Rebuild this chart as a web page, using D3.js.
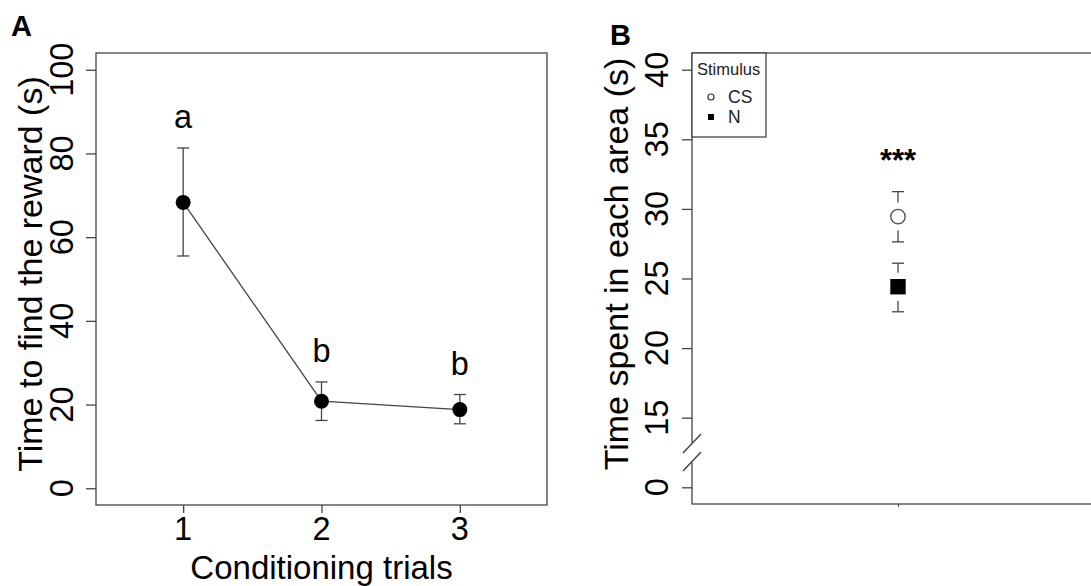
<!DOCTYPE html>
<html>
<head>
<meta charset="utf-8">
<script src="https://cdn.jsdelivr.net/npm/d3@7"></script>
<style>
  body { margin: 0; background: #fff; }
  svg { display: block; }
  text { font-family: "Liberation Sans", Arial, sans-serif; }
</style>
</head>
<body>
<div id="root"></div>
<script>
// panel A data
const trials = [1, 2, 3];
const rewardTime = [68.3, 20.8, 18.8];
const rewardUpper = [81.3, 25.4, 22.4];
const rewardLower = [55.5, 16.2, 15.4];
const groupLetters = ['a', 'b', 'b'];
const yTicksA = [0, 20, 40, 60, 80, 100];

// panel B data
const stimuli = ['CS', 'N'];
const areaTime = [29.45, 24.41];
const areaUpper = [31.24, 26.1];
const areaLower = [27.63, 22.61];
const yTicksB = [0, 15, 20, 25, 30, 35, 40];

const W = 1091, H = 586;
const ink = '#444';
const tickFont = 32.5;
const titleFont = 34;

const svg = d3.select('#root').append('svg')
  .attr('width', W).attr('height', H);

// ---------- panel A ----------
const boxA = {l: 96, r: 547, t: 53, b: 505};
const xA = d3.scaleLinear().domain([0.37, 3.63]).range([boxA.l, boxA.r]);
const yA = d3.scaleLinear().domain([-4, 104]).range([boxA.b, boxA.t]);

const gA = svg.append('g');

gA.append('rect')
  .attr('x', boxA.l).attr('y', boxA.t)
  .attr('width', boxA.r - boxA.l).attr('height', boxA.b - boxA.t)
  .attr('fill', 'none').attr('stroke', ink).attr('stroke-width', 1.3);

// y axis
const yAxisA = gA.append('g').attr('transform', `translate(${boxA.l},0)`)
  .call(d3.axisLeft(yA).tickValues(yTicksA).tickSize(10).tickSizeOuter(0));
yAxisA.select('.domain').remove();
yAxisA.selectAll('line').attr('stroke', ink).attr('stroke-width', 1.3);
yAxisA.selectAll('text').remove();
gA.selectAll('.ytA').data(yTicksA).enter().append('text')
  .attr('transform', d => `translate(73,${yA(d)}) rotate(-90)`)
  .attr('text-anchor', 'middle')
  .attr('font-size', tickFont)
  .text(d => d);

// x axis
const xAxisA = gA.append('g').attr('transform', `translate(0,${boxA.b})`)
  .call(d3.axisBottom(xA).tickValues(trials).tickSize(8).tickSizeOuter(0));
xAxisA.select('.domain').remove();
xAxisA.selectAll('line').attr('stroke', ink).attr('stroke-width', 1.3);
xAxisA.selectAll('text').remove();
gA.selectAll('.xtA').data(trials).enter().append('text')
  .attr('x', d => xA(d)).attr('y', 540)
  .attr('text-anchor', 'middle')
  .attr('font-size', tickFont)
  .text(d => d);

gA.append('text')
  .attr('x', xA(2)).attr('y', 579)
  .attr('text-anchor', 'middle')
  .attr('font-size', 33)
  .text('Conditioning trials');

gA.append('text')
  .attr('transform', `translate(42,274) rotate(-90)`)
  .attr('text-anchor', 'middle')
  .attr('font-size', titleFont)
  .text('Time to find the reward (s)');

// error bars
const capA = 6;
trials.forEach((t, i) => {
  const x = xA(t);
  gA.append('line')
    .attr('x1', x).attr('x2', x)
    .attr('y1', yA(rewardUpper[i])).attr('y2', yA(rewardLower[i]))
    .attr('stroke', ink).attr('stroke-width', 1.3);
  [rewardUpper[i], rewardLower[i]].forEach(v => {
    gA.append('line')
      .attr('x1', x - capA).attr('x2', x + capA)
      .attr('y1', yA(v)).attr('y2', yA(v))
      .attr('stroke', ink).attr('stroke-width', 1.3);
  });
});

const lineA = d3.line().x((d, i) => xA(trials[i])).y(d => yA(d));
gA.append('path')
  .datum(rewardTime)
  .attr('d', lineA)
  .attr('fill', 'none').attr('stroke', ink).attr('stroke-width', 1.3);

gA.selectAll('.ptA').data(rewardTime).enter().append('circle')
  .attr('cx', (d, i) => xA(trials[i]))
  .attr('cy', d => yA(d))
  .attr('r', 7.5)
  .attr('fill', '#000');

// letters sit above the upper error bar
gA.selectAll('.ltA').data(groupLetters).enter().append('text')
  .attr('x', (d, i) => xA(trials[i]))
  .attr('y', (d, i) => yA(rewardUpper[i]) - 20)
  .attr('text-anchor', 'middle')
  .attr('font-size', tickFont)
  .text(d => d);

svg.append('text')
  .attr('x', 11).attr('y', 36)
  .attr('font-size', 29).attr('font-weight', 'bold')
  .text('A');

// ---------- panel B ----------
const boxB = {l: 692, r: 1104, t: 53, b: 504};
const unitB = (boxB.b - boxB.t) / 32.4;
const y40 = boxB.t + 1.2 * unitB;
const y15 = y40 + 25 * unitB;
const y0 = y15 + 5 * unitB;
// broken axis: 0 sits one step below 15
const yB = d3.scaleLinear().domain([0, 15, 40]).range([y0, y15, y40]);
const xB = d3.scalePoint().domain(['trial']).range([boxB.l, boxB.r]).padding(0.5);

const gB = svg.append('g');

gB.append('rect')
  .attr('x', boxB.l).attr('y', boxB.t)
  .attr('width', boxB.r - boxB.l).attr('height', boxB.b - boxB.t)
  .attr('fill', 'none').attr('stroke', ink).attr('stroke-width', 1.3);

const yAxisB = gB.append('g').attr('transform', `translate(${boxB.l},0)`)
  .call(d3.axisLeft(yB).tickValues(yTicksB).tickSize(10).tickSizeOuter(0));
yAxisB.select('.domain').remove();
yAxisB.selectAll('line').attr('stroke', ink).attr('stroke-width', 1.3);
yAxisB.selectAll('text').remove();
gB.selectAll('.ytB').data(yTicksB).enter().append('text')
  .attr('transform', d => `translate(668,${yB(d)}) rotate(-90)`)
  .attr('text-anchor', 'middle')
  .attr('font-size', tickFont)
  .text(d => d);

// small x tick
const xAxisB = gB.append('g').attr('transform', `translate(0,${boxB.b})`)
  .call(d3.axisBottom(xB).tickSize(3).tickSizeOuter(0));
xAxisB.select('.domain').remove();
xAxisB.selectAll('line').attr('stroke', ink);
xAxisB.selectAll('text').remove();

// axis break
const yMid = (yB(0) + yB(15)) / 2;
gB.append('rect')
  .attr('x', boxB.l - 3).attr('y', yMid - 10)
  .attr('width', 6).attr('height', 20)
  .attr('fill', '#fff');
[-9, 9].forEach(off => {
  gB.append('line')
    .attr('x1', boxB.l - 9).attr('y1', yMid + off + 9.5)
    .attr('x2', boxB.l + 9).attr('y2', yMid + off - 9.5)
    .attr('stroke', ink).attr('stroke-width', 1.5);
});

gB.append('text')
  .attr('transform', `translate(628,264) rotate(-90)`)
  .attr('text-anchor', 'middle')
  .attr('font-size', titleFont)
  .text('Time spent in each area (s)');

// error bars with a gap around the marker
const xc = xB('trial');
const capB = 6;
stimuli.forEach((s, i) => {
  const yc = yB(areaTime[i]);
  [[areaUpper[i], -1], [areaLower[i], 1]].forEach(([v, dir]) => {
    const yv = yB(v);
    gB.append('line')
      .attr('x1', xc).attr('x2', xc)
      .attr('y1', yv).attr('y2', yc + dir * 14)
      .attr('stroke', ink).attr('stroke-width', 1.3);
    gB.append('line')
      .attr('x1', xc - capB).attr('x2', xc + capB)
      .attr('y1', yv).attr('y2', yv)
      .attr('stroke', ink).attr('stroke-width', 1.3);
  });
});

gB.append('circle')
  .attr('cx', xc).attr('cy', yB(areaTime[0]))
  .attr('r', 7.2)
  .attr('fill', '#fff').attr('stroke', '#555').attr('stroke-width', 1.4);
gB.append('rect')
  .attr('x', xc - 7.7).attr('y', yB(areaTime[1]) - 7.7)
  .attr('width', 15.4).attr('height', 15.4)
  .attr('fill', '#000');

gB.append('text')
  .attr('x', xc).attr('y', yB(areaUpper[0]) - 21)
  .attr('text-anchor', 'middle')
  .attr('font-size', 31).attr('font-weight', 'bold')
  .text('***');

// legend
const leg = gB.append('g');
leg.append('rect')
  .attr('x', boxB.l).attr('y', boxB.t)
  .attr('width', 74).attr('height', 84)
  .attr('fill', '#fff').attr('stroke', ink).attr('stroke-width', 1.3);
leg.append('text')
  .attr('x', 697).attr('y', 74.5)
  .attr('font-size', 16.5).attr('fill', '#222')
  .text('Stimulus');
stimuli.forEach((s, i) => {
  const ly = 97 + i * 20;
  if (i === 0) {
    leg.append('circle').attr('cx', 711).attr('cy', ly).attr('r', 3)
      .attr('fill', '#fff').attr('stroke', '#333').attr('stroke-width', 1.2);
  } else {
    leg.append('rect').attr('x', 708).attr('y', ly - 3).attr('width', 6).attr('height', 6)
      .attr('fill', '#000');
  }
  leg.append('text')
    .attr('x', 728).attr('y', ly + 6)
    .attr('font-size', 17.5).attr('fill', '#222')
    .text(s);
});

svg.append('text')
  .attr('x', 610).attr('y', 45)
  .attr('font-size', 29).attr('font-weight', 'bold')
  .text('B');
</script>
</body>
</html>
